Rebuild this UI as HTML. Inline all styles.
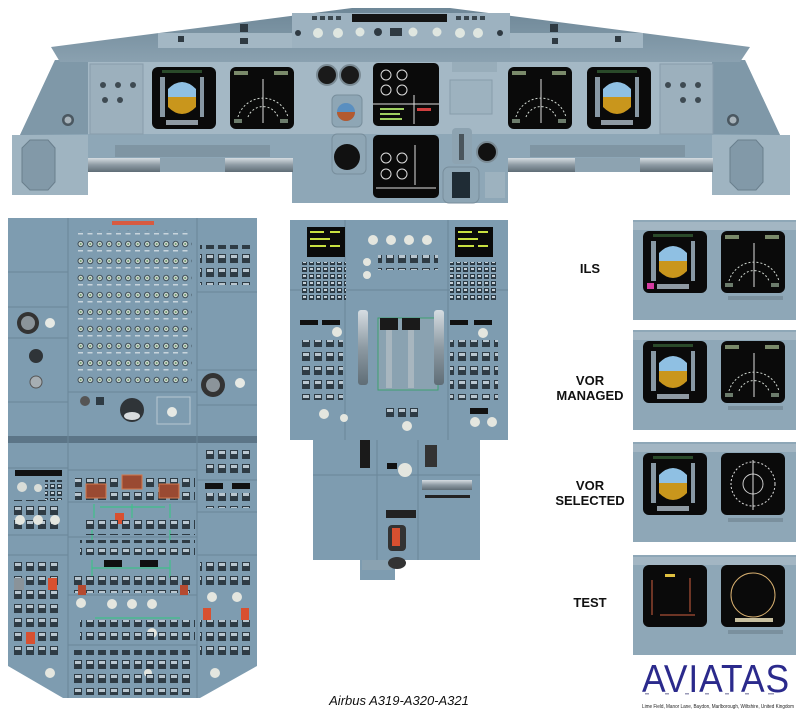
<!DOCTYPE html>
<html><head><meta charset="utf-8"><style>
html,body{margin:0;padding:0;background:#fff;width:800px;height:717px;overflow:hidden}
svg{display:block}
text{font-family:"Liberation Sans",Arial,sans-serif}
</style></head><body>
<svg width="800" height="717" viewBox="0 0 800 717" xmlns="http://www.w3.org/2000/svg">
<defs>
<pattern id="knobs" x="0" y="0" width="9.5" height="17" patternUnits="userSpaceOnUse">
<circle cx="4.7" cy="6" r="3.2" fill="#3f4f58"/><circle cx="4.7" cy="6" r="2.2" fill="#cfd8d0"/><circle cx="4.7" cy="6" r="1" fill="#6c9a70"/>
<rect x="2" y="12" width="5" height="1.5" fill="#c8d4dc"/>
</pattern>
<pattern id="btns" x="0" y="0" width="12" height="14" patternUnits="userSpaceOnUse">
<rect x="2" y="2" width="8" height="9" fill="#2e3b44"/><rect x="3" y="3" width="6" height="3" fill="#b9c6cf"/>
</pattern>
<pattern id="keys" x="0" y="0" width="7" height="7" patternUnits="userSpaceOnUse">
<rect x="1" y="1" width="5" height="5" fill="#2c3a44"/><rect x="2" y="2" width="3" height="2" fill="#c5d0d8"/>
</pattern>
<linearGradient id="gs" x1="0" y1="0" x2="0" y2="1"><stop offset="0" stop-color="#6e8797"/><stop offset="1" stop-color="#8aa1b0"/></linearGradient>
<linearGradient id="bar" x1="0" y1="0" x2="0" y2="1"><stop offset="0" stop-color="#d6dde2"/><stop offset=".5" stop-color="#8d9aa3"/><stop offset="1" stop-color="#5f6d76"/></linearGradient>
<g id="pfd">
<rect x="0" y="0" width="64" height="62" rx="6" fill="#0a0a0a"/>
<rect x="8" y="10" width="5" height="40" fill="#8898a4"/>
<rect x="48" y="10" width="4" height="40" fill="#8898a4"/>
<path d="M16 30 L16 22 Q30 8 44 22 L44 30 Z" fill="#8fc0e3"/>
<path d="M16 30 L44 30 L44 40 Q30 54 16 40 Z" fill="#c9961c"/>
<rect x="14" y="53" width="32" height="5" fill="#8f9aa3"/>
<rect x="10" y="3" width="40" height="3" fill="#2a4a2a"/>
</g>
<g id="nd">
<rect x="0" y="0" width="64" height="62" rx="6" fill="#0a0a0a"/>
<path d="M8 50 A26 26 0 0 1 58 50" fill="none" stroke="#cfd6cf" stroke-width="1" stroke-dasharray="2 2"/>
<path d="M18 50 A16 16 0 0 1 48 50" fill="none" stroke="#cfd6cf" stroke-width="1" stroke-dasharray="2 2"/>
<line x1="33" y1="12" x2="33" y2="56" stroke="#ddd" stroke-width="1"/>
<rect x="4" y="4" width="14" height="4" fill="#7a8a6a"/><rect x="44" y="4" width="14" height="4" fill="#7a8a6a"/>
<rect x="4" y="52" width="8" height="4" fill="#6c7c6c"/><rect x="50" y="52" width="8" height="4" fill="#6c7c6c"/>
</g>
</defs>

<!-- ===== MAIN PANEL ===== -->
<polygon points="20,135 55,60 745,60 780,135 790,195 720,195 716,172 508,172 508,203 292,203 292,172 88,172 85,195 12,195" fill="#8ea7b7"/>
<polygon points="88,62 712,62 712,134 88,134" fill="#a4b8c5"/>
<polygon points="20,135 55,60 88,62 88,134" fill="#7f98a8"/>
<polygon points="780,135 745,60 712,62 712,134" fill="#7f98a8"/>
<rect x="12" y="135" width="76" height="60" fill="#9fb4c1"/>
<rect x="712" y="135" width="78" height="60" fill="#9fb4c1"/>
<polygon points="22,148 30,140 48,140 55,148 55,182 48,190 30,190 22,182" fill="#8299a8" stroke="#6a7f8d"/>
<polygon points="730,148 738,140 756,140 763,148 763,182 756,190 738,190 730,182" fill="#8299a8" stroke="#6a7f8d"/>
<circle cx="68" cy="120" r="6" fill="#4a5760"/><circle cx="68" cy="120" r="3.5" fill="#a8b3ba"/>
<circle cx="733" cy="120" r="6" fill="#4a5760"/><circle cx="733" cy="120" r="3.5" fill="#a8b3ba"/>
<!-- side panels -->
<rect x="90" y="64" width="53" height="70" fill="#9cb0bd" stroke="#889dab"/>
<rect x="660" y="64" width="53" height="70" fill="#9cb0bd" stroke="#889dab"/>
<g fill="#3e4a52"><circle cx="103" cy="85" r="3"/><circle cx="118" cy="85" r="3"/><circle cx="133" cy="85" r="3"/><circle cx="105" cy="100" r="3"/><circle cx="120" cy="100" r="3"/>
<circle cx="668" cy="85" r="3"/><circle cx="683" cy="85" r="3"/><circle cx="698" cy="85" r="3"/><circle cx="683" cy="100" r="3"/><circle cx="698" cy="100" r="3"/></g>
<!-- bottom bars -->
<rect x="115" y="145" width="155" height="12" fill="#7f95a3"/>
<rect x="530" y="145" width="155" height="12" fill="#7f95a3"/>
<rect x="88" y="158" width="205" height="14" fill="url(#bar)"/>
<rect x="508" y="158" width="205" height="14" fill="url(#bar)"/>
<rect x="160" y="158" width="65" height="14" fill="#8da3b1"/>
<rect x="575" y="158" width="65" height="14" fill="#8da3b1"/>
<!-- glareshield -->
<polygon points="51,47 352,8 450,8 750,47 740,62 60,62" fill="url(#gs)"/>
<rect x="158" y="33" width="485" height="15" fill="#a3b7c4"/>
<polygon points="292,13 510,13 510,48 292,48" fill="#9db2c0"/>
<rect x="352" y="14" width="95" height="8" fill="#141414"/>
<g fill="#dfe6e0"><circle cx="318" cy="33" r="5"/><circle cx="338" cy="33" r="5"/><circle cx="360" cy="32" r="4.5"/><circle cx="413" cy="32" r="4.5"/><circle cx="437" cy="32" r="4.5"/><circle cx="460" cy="33" r="5"/><circle cx="478" cy="33" r="5"/></g>
<g fill="#2f3a42"><circle cx="298" cy="33" r="3"/><circle cx="500" cy="33" r="3"/><rect x="390" y="28" width="12" height="8"/><circle cx="378" cy="32" r="4"/><rect x="240" y="24" width="8" height="8"/><rect x="550" y="24" width="8" height="8"/><rect x="178" y="36" width="6" height="6"/><rect x="240" y="38" width="8" height="6"/><rect x="615" y="36" width="6" height="6"/><rect x="552" y="38" width="6" height="6"/></g>
<g fill="#3a474f"><rect x="312" y="16" width="5" height="4"/><rect x="320" y="16" width="5" height="4"/><rect x="328" y="16" width="5" height="4"/><rect x="336" y="16" width="5" height="4"/><rect x="456" y="16" width="5" height="4"/><rect x="464" y="16" width="5" height="4"/><rect x="472" y="16" width="5" height="4"/><rect x="480" y="16" width="5" height="4"/></g>
<!-- displays -->
<use href="#pfd" x="152" y="67"/>
<use href="#nd" x="230" y="67"/>
<use href="#nd" x="508" y="67"/>
<use href="#pfd" x="587" y="67"/>
<rect x="373" y="63" width="66" height="63" rx="5" fill="#0a0a0a"/>
<g fill="none" stroke="#ddd" stroke-width="1"><circle cx="386" cy="75" r="5"/><circle cx="402" cy="75" r="5"/><circle cx="386" cy="90" r="5"/><circle cx="402" cy="90" r="5"/><line x1="373" y1="104" x2="439" y2="104"/><line x1="414" y1="95" x2="414" y2="124"/></g>
<g fill="#9fd060"><rect x="380" y="108" width="24" height="2"/><rect x="380" y="113" width="20" height="2"/><rect x="380" y="118" width="22" height="2"/></g>
<rect x="417" y="108" width="14" height="3" fill="#d04040"/>
<rect x="373" y="135" width="66" height="63" rx="5" fill="#0a0a0a"/>
<g fill="none" stroke="#ddd" stroke-width="1"><circle cx="386" cy="158" r="5"/><circle cx="402" cy="158" r="5"/><circle cx="386" cy="174" r="5"/><circle cx="402" cy="174" r="5"/><line x1="415" y1="145" x2="415" y2="185"/><line x1="376" y1="188" x2="436" y2="188"/></g>
<!-- standby instruments -->
<circle cx="327" cy="75" r="10" fill="#1a1a1a" stroke="#7a8a94" stroke-width="2"/>
<circle cx="350" cy="75" r="10" fill="#1a1a1a" stroke="#7a8a94" stroke-width="2"/>
<rect x="332" y="95" width="30" height="32" rx="5" fill="#8ea6b5" stroke="#788e9c"/>
<circle cx="346" cy="112" r="9" fill="#5a8fc0"/><path d="M337 112 A9 9 0 0 0 355 112 Z" fill="#b35a30"/>
<rect x="332" y="134" width="34" height="40" rx="5" fill="#8ea6b5" stroke="#788e9c"/>
<circle cx="347" cy="157" r="13" fill="#111"/>
<rect x="452" y="128" width="20" height="36" rx="4" fill="#8da3b1"/><rect x="459" y="134" width="5" height="26" fill="#4a555c"/>
<circle cx="487" cy="152" r="10" fill="#111" stroke="#7a8a94" stroke-width="2"/>
<rect x="443" y="167" width="36" height="36" rx="6" fill="#8ea6b5" stroke="#788e9c"/><rect x="452" y="172" width="18" height="26" fill="#1f2c35"/>
<rect x="450" y="80" width="42" height="34" fill="#9db2bf" stroke="#889dab"/>
<rect x="452" y="62" width="45" height="10" fill="#98adba"/>
<rect x="485" y="172" width="20" height="26" fill="#9db2bf"/>

<!-- ===== OVERHEAD ===== -->
<polygon points="8,218 257,218 257,666 200,698 63,698 8,666" fill="#7e9cb0"/>
<rect x="8" y="436" width="249" height="7" fill="#5c7587"/>
<g stroke="#6a8699" stroke-width="1" fill="none">
<line x1="68" y1="218" x2="68" y2="698"/><line x1="197" y1="218" x2="197" y2="698"/>
<line x1="8" y1="272" x2="68" y2="272"/><line x1="8" y1="307" x2="68" y2="307"/><line x1="8" y1="338" x2="68" y2="338"/><line x1="8" y1="402" x2="68" y2="402"/>
<line x1="68" y1="392" x2="197" y2="392"/><line x1="197" y1="292" x2="257" y2="292"/><line x1="197" y1="370" x2="257" y2="370"/><line x1="197" y1="405" x2="257" y2="405"/>
<line x1="8" y1="468" x2="68" y2="468"/><line x1="68" y1="470" x2="197" y2="470"/><line x1="68" y1="502" x2="197" y2="502"/><line x1="68" y1="537" x2="197" y2="537"/><line x1="68" y1="595" x2="197" y2="595"/><line x1="68" y1="645" x2="197" y2="645"/>
<line x1="8" y1="535" x2="68" y2="535"/><line x1="8" y1="555" x2="68" y2="555"/><line x1="197" y1="480" x2="257" y2="480"/><line x1="197" y1="512" x2="257" y2="512"/><line x1="197" y1="555" x2="257" y2="555"/>
</g>
<rect x="112" y="221" width="42" height="4" fill="#d85a40"/>
<rect x="75" y="230" width="117" height="153" fill="url(#knobs)"/>
<rect x="200" y="245" width="50" height="40" fill="url(#btns)"/>
<circle cx="28" cy="323" r="11" fill="#333"/><circle cx="28" cy="323" r="7" fill="#8b949a"/>
<circle cx="50" cy="323" r="5" fill="#e6e9e4"/>
<circle cx="36" cy="356" r="7" fill="#2f3438"/>
<circle cx="36" cy="382" r="6" fill="#a6aeb3" stroke="#555"/>
<circle cx="213" cy="385" r="12" fill="#333"/><circle cx="213" cy="385" r="7" fill="#8b949a"/>
<circle cx="240" cy="383" r="5" fill="#e6e9e4"/>
<circle cx="132" cy="410" r="12" fill="#2f3438"/><ellipse cx="132" cy="416" rx="8" ry="4" fill="#d8dbdd"/>
<circle cx="85" cy="401" r="5" fill="#555"/><rect x="96" y="397" width="8" height="8" fill="#2e3b44"/>
<rect x="157" y="397" width="33" height="27" fill="none" stroke="#b8c8d2"/><circle cx="172" cy="412" r="5" fill="#e6e9e4"/>
<!-- lower overhead -->
<rect x="205" y="448" width="47" height="28" fill="url(#btns)"/>
<rect x="15" y="470" width="47" height="6" fill="#111"/>
<rect x="45" y="480" width="18" height="20" fill="url(#keys)"/>
<circle cx="22" cy="487" r="5" fill="#d9ddd8"/><circle cx="38" cy="488" r="4" fill="#d9ddd8"/>
<rect x="14" y="500" width="48" height="30" fill="url(#btns)"/>
<rect x="75" y="475" width="120" height="25" fill="url(#btns)"/>
<rect x="86" y="484" width="20" height="14" fill="#9a4a32" stroke="#d4794d"/>
<rect x="122" y="475" width="20" height="14" fill="#9a4a32" stroke="#d4794d"/>
<rect x="159" y="484" width="20" height="14" fill="#9a4a32" stroke="#d4794d"/>
<g stroke="#3fc08a" stroke-width="1.2" fill="none"><line x1="94" y1="504" x2="94" y2="518"/><line x1="132" y1="504" x2="132" y2="518"/><line x1="170" y1="504" x2="170" y2="518"/><line x1="100" y1="507" x2="165" y2="507"/><line x1="92" y1="530" x2="92" y2="540"/><line x1="170" y1="530" x2="170" y2="540"/><line x1="92" y1="560" x2="92" y2="578"/><line x1="170" y1="560" x2="170" y2="578"/><line x1="92" y1="568" x2="170" y2="568"/><line x1="95" y1="618" x2="180" y2="618"/></g>
<rect x="115" y="513" width="9" height="11" fill="#d85030"/>
<rect x="85" y="515" width="110" height="20" fill="url(#btns)"/>
<rect x="80" y="540" width="115" height="15" fill="url(#btns)"/>
<rect x="104" y="560" width="18" height="7" fill="#111"/><rect x="140" y="560" width="18" height="7" fill="#111"/>
<rect x="74" y="575" width="120" height="18" fill="url(#btns)"/>
<rect x="78" y="585" width="8" height="10" fill="#b54a30"/><rect x="180" y="585" width="8" height="10" fill="#b54a30"/>
<g fill="#e4e6df"><circle cx="81" cy="603" r="5"/><circle cx="112" cy="604" r="5"/><circle cx="132" cy="604" r="5"/><circle cx="152" cy="604" r="5"/><circle cx="152" cy="633" r="5"/><circle cx="20" cy="520" r="5"/><circle cx="38" cy="520" r="5"/><circle cx="55" cy="520" r="5"/><circle cx="50" cy="673" r="5"/><circle cx="212" cy="597" r="5"/><circle cx="237" cy="597" r="5"/><circle cx="215" cy="673" r="5"/><circle cx="148" cy="673" r="4"/></g>
<rect x="14" y="560" width="48" height="100" fill="url(#btns)"/>
<rect x="14" y="578" width="10" height="12" fill="#8a9399"/><rect x="48" y="578" width="9" height="12" fill="#d85030"/><rect x="26" y="632" width="9" height="12" fill="#d85030"/>
<rect x="80" y="620" width="115" height="20" fill="url(#btns)"/>
<rect x="72" y="650" width="120" height="45" fill="url(#btns)"/>
<rect x="200" y="560" width="52" height="25" fill="url(#btns)"/>
<rect x="200" y="620" width="52" height="35" fill="url(#btns)"/>
<rect x="203" y="608" width="8" height="12" fill="#d85030"/><rect x="241" y="608" width="8" height="12" fill="#d85030"/>
<rect x="205" y="483" width="18" height="6" fill="#111"/><rect x="232" y="483" width="18" height="6" fill="#111"/>
<rect x="203" y="493" width="48" height="15" fill="url(#btns)"/>

<!-- ===== PEDESTAL ===== -->
<polygon points="290,220 508,220 508,440 480,440 480,560 395,560 395,580 360,580 360,560 313,560 313,440 290,440" fill="#7e9cb0"/>
<g stroke="#6a8699" fill="none"><line x1="290" y1="290" x2="508" y2="290"/><line x1="345" y1="220" x2="345" y2="440"/><line x1="448" y1="220" x2="448" y2="440"/><line x1="313" y1="475" x2="480" y2="475"/><line x1="377" y1="440" x2="377" y2="560"/><line x1="418" y1="440" x2="418" y2="560"/></g>
<rect x="307" y="227" width="38" height="30" fill="#0a0a0a"/>
<g fill="#c8e040"><rect x="310" y="231" width="14" height="2"/><rect x="330" y="231" width="10" height="2"/><rect x="310" y="238" width="20" height="2"/><rect x="310" y="245" width="16" height="2"/><rect x="330" y="245" width="10" height="2"/></g>
<rect x="455" y="227" width="38" height="30" fill="#0a0a0a"/>
<g fill="#c8e040"><rect x="458" y="231" width="14" height="2"/><rect x="478" y="231" width="10" height="2"/><rect x="458" y="238" width="20" height="2"/><rect x="458" y="245" width="16" height="2"/><rect x="478" y="245" width="10" height="2"/></g>
<g fill="#e4e6df"><circle cx="373" cy="240" r="5"/><circle cx="391" cy="240" r="5"/><circle cx="409" cy="240" r="5"/><circle cx="427" cy="240" r="5"/><circle cx="367" cy="262" r="4"/><circle cx="367" cy="275" r="4"/><circle cx="337" cy="332" r="5"/><circle cx="483" cy="333" r="5"/><circle cx="324" cy="414" r="5"/><circle cx="344" cy="418" r="4"/><circle cx="407" cy="426" r="5"/><circle cx="475" cy="422" r="5"/><circle cx="492" cy="422" r="5"/><circle cx="405" cy="470" r="7"/></g>
<rect x="300" y="262" width="46" height="40" fill="url(#keys)"/>
<rect x="450" y="262" width="46" height="40" fill="url(#keys)"/>
<rect x="378" y="255" width="60" height="15" fill="url(#btns)"/>
<rect x="300" y="320" width="18" height="5" fill="#111"/><rect x="322" y="320" width="18" height="5" fill="#111"/>
<rect x="450" y="320" width="18" height="5" fill="#111"/><rect x="474" y="320" width="18" height="5" fill="#111"/>
<rect x="298" y="340" width="45" height="60" fill="url(#btns)"/>
<rect x="450" y="340" width="48" height="60" fill="url(#btns)"/>
<rect x="470" y="408" width="18" height="6" fill="#111"/>
<rect x="378" y="318" width="60" height="72" fill="#8aa2b1" stroke="#3fa070"/>
<rect x="358" y="310" width="10" height="75" rx="3" fill="url(#bar)"/><rect x="434" y="310" width="10" height="75" rx="3" fill="url(#bar)"/>
<rect x="380" y="318" width="18" height="12" fill="#1a1a1a"/><rect x="402" y="318" width="18" height="12" fill="#1a1a1a"/>
<rect x="386" y="330" width="6" height="58" fill="#a8b6bf"/><rect x="408" y="330" width="6" height="58" fill="#a8b6bf"/>
<rect x="384" y="405" width="35" height="15" fill="url(#btns)"/>
<rect x="360" y="440" width="10" height="28" fill="#1a1a1a"/>
<rect x="425" y="445" width="12" height="22" fill="#333"/>
<rect x="387" y="463" width="10" height="6" fill="#111"/>
<rect x="422" y="480" width="50" height="10" fill="url(#bar)"/><rect x="425" y="495" width="45" height="3" fill="#222"/>
<rect x="386" y="510" width="30" height="8" fill="#222"/>
<rect x="388" y="525" width="18" height="26" rx="4" fill="#333"/><rect x="392" y="528" width="8" height="18" fill="#d85030"/>
<rect x="362" y="560" width="30" height="10" fill="#8aa2b1"/>
<ellipse cx="397" cy="563" rx="9" ry="6" fill="#333"/>

<!-- ===== RIGHT DISPLAY PANELS ===== -->
<g>
<rect x="633" y="220" width="163" height="100" fill="#8ea7b7"/><rect x="633" y="222" width="163" height="8" fill="#a3b6c3"/>
<use href="#pfd" x="643" y="231"/><use href="#nd" x="721" y="231"/><rect x="728" y="296" width="55" height="4" fill="#7a909e"/>
<rect x="647" y="283" width="7" height="6" fill="#d43ba0"/>
</g>
<g>
<rect x="633" y="330" width="163" height="100" fill="#8ea7b7"/><rect x="633" y="332" width="163" height="8" fill="#a3b6c3"/>
<use href="#pfd" x="643" y="341"/><use href="#nd" x="721" y="341"/><rect x="728" y="406" width="55" height="4" fill="#7a909e"/>
</g>
<g>
<rect x="633" y="442" width="163" height="100" fill="#8ea7b7"/><rect x="633" y="444" width="163" height="8" fill="#a3b6c3"/>
<use href="#pfd" x="643" y="453"/>
<rect x="721" y="453" width="64" height="62" rx="6" fill="#0a0a0a"/><circle cx="753" cy="484" r="22" fill="none" stroke="#ddd" stroke-dasharray="2 2"/><circle cx="753" cy="484" r="10" fill="none" stroke="#ccc"/><line x1="753" y1="460" x2="753" y2="510" stroke="#ddd"/>
<rect x="728" y="518" width="55" height="4" fill="#7a909e"/>
</g>
<g>
<rect x="633" y="555" width="163" height="100" fill="#8ea7b7"/><rect x="633" y="557" width="163" height="8" fill="#a3b6c3"/>
<rect x="643" y="565" width="64" height="62" rx="6" fill="#0a0a0a"/>
<g fill="none" stroke="#d06040" stroke-width="1"><line x1="652" y1="580" x2="652" y2="615"/><line x1="690" y1="578" x2="690" y2="612"/><line x1="660" y1="615" x2="695" y2="615"/></g>
<rect x="665" y="574" width="10" height="3" fill="#e0c040"/>
<rect x="721" y="565" width="64" height="62" rx="6" fill="#0a0a0a"/><circle cx="753" cy="595" r="22" fill="none" stroke="#d8b070"/><rect x="735" y="618" width="38" height="4" fill="#c8c0a0"/>
<rect x="728" y="630" width="55" height="4" fill="#7a909e"/>
</g>

<g font-family="Liberation Sans, Arial, sans-serif" font-weight="bold" font-size="13" fill="#111" text-anchor="middle">
<text x="590" y="273">ILS</text>
<text x="590" y="385">VOR</text><text x="590" y="400">MANAGED</text>
<text x="590" y="490">VOR</text><text x="590" y="505">SELECTED</text>
<text x="590" y="607">TEST</text>
</g>
<text x="399" y="705" font-size="13" font-style="italic" fill="#111" text-anchor="middle">Airbus A319-A320-A321</text>
<text x="716" y="692" font-size="39" fill="#2b2a8c" text-anchor="middle" letter-spacing="1" textLength="148" lengthAdjust="spacingAndGlyphs">AVIATAS</text>
<g fill="#9a9ab8"><rect x="645" y="693" width="4" height="1.5"/><rect x="665" y="693" width="4" height="1.5"/><rect x="685" y="693" width="4" height="1.5"/><rect x="705" y="693" width="4" height="1.5"/><rect x="725" y="693" width="4" height="1.5"/><rect x="745" y="693" width="4" height="1.5"/><rect x="768" y="693" width="6" height="1.5"/></g>
<text x="718" y="708" font-size="5" fill="#222" text-anchor="middle" textLength="152" lengthAdjust="spacingAndGlyphs">Lime Field, Manor Lane, Baydon, Marlborough, Wiltshire, United Kingdom</text>
</svg>
</body></html>
